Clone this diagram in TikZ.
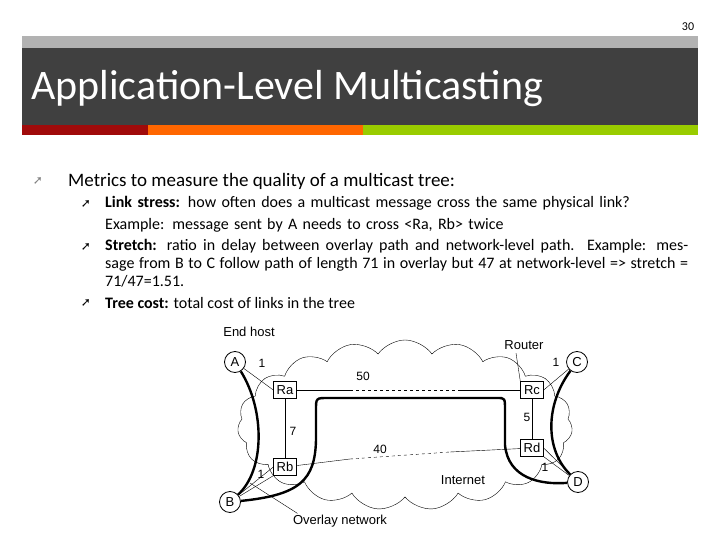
\documentclass[tikz,border=0pt]{standalone}
\usepackage{fontspec}
\setmainfont{Carlito}
\newfontfamily\figfont{Liberation Sans}
\newfontfamily\symfont{DejaVu Sans}
\usetikzlibrary{positioning,shapes.symbols}
\definecolor{colorbar}{RGB}{64,64,64}
\definecolor{colorred}{RGB}{160,10,10}
\definecolor{colororange}{RGB}{255,102,0}
\definecolor{colorgreen}{RGB}{153,204,0}

\begin{document}
\begin{tikzpicture}[
    x=1pt, y=-1pt,
    host/.style={circle,draw,thick,minimum size=21pt,inner sep=0pt,font={\figfont\fontsize{13}{15}\selectfont}},
    router/.style={rectangle,draw,fill=white,minimum width=23pt,minimum height=17pt,inner sep=1pt,font={\figfont\fontsize{13}{15}\selectfont}},
    weight/.style={font={\figfont\fontsize{12}{14}\selectfont}},
    figtext/.style={font={\figfont\fontsize{13}{15}\selectfont}},
    treeline/.style={line width=2.4pt},
    bullet/.style={font={\symfont\fontsize{12}{14}\selectfont}},
]
    \useasboundingbox (0,0) rectangle (720,540);

    % Slide frame
    \fill[gray!60] (22,36) rectangle (698,48);
    \fill[colorbar] (22,48) rectangle (698,125);
    \fill[colorred] (22,125) rectangle (148,135);
    \fill[colororange] (148,125) rectangle (363,135);
    \fill[colorgreen] (363,125) rectangle (698,135);
    \node[font=\fontsize{12}{14}\selectfont] (page) at (688,27) {30};
    \node[anchor=west,text=white,font=\fontsize{42}{46}\selectfont,inner sep=0pt] (title) at (31,89) {Application-Level Multicasting};

    % Bullets
    \node[bullet,text=gray] (b0) at (38,181) {➚};
    \node[anchor=west,inner sep=0pt,font=\fontsize{19}{22}\selectfont] (t0) at (68,181) {Metrics to measure the quality of a multicast tree:};
    \node[bullet] (b1) at (86,204) {➚};
    \node[anchor=north west,text width=583pt,align=left,inner sep=0pt,font=\fontsize{16}{22}\selectfont] (t1) at (105,196)
        {\textbf{Link stress:} how often does a multicast message cross the same physical link?\\Example: message sent by A needs to cross <Ra, Rb> twice};
    \node[bullet] (b2) at (86,247) {➚};
    \node[anchor=north west,text width=583pt,align=justify,inner sep=0pt,font=\fontsize{16}{18}\selectfont] (t2) at (105,239)
        {\textbf{Stretch:} ratio in delay between overlay path and network-level path. Example: message from B to C follow path of length 71 in overlay but 47 at network-level => stretch = 71/47=1.51.\par};
    \node[bullet] (b3) at (86,303) {➚};
    \node[anchor=west,inner sep=0pt,font=\fontsize{16}{18}\selectfont] (t3) at (105,303) {\textbf{Tree cost:} total cost of links in the tree};

    % Internet cloud
    \node[cloud,draw,thin,cloud puffs=19,cloud puff arc=110,aspect=2.1,minimum width=335pt,minimum height=170pt] (net) at (405,425) {};

    % Hosts and routers
    \node[host] (A) at (235,362) {A};
    \node[host] (B) at (230,502) {B};
    \node[host] (C) at (577,362) {C};
    \node[host] (D) at (578,482) {D};
    \node[router] (Ra) at (285,390) {Ra};
    \node[router] (Rb) at (285,467) {Rb};
    \node[router] (Rc) at (532,390) {Rc};
    \node[router] (Rd) at (532,448) {Rd};

    % Network links
    \draw (A) -- (Ra.west);
    \draw (B) -- (Rb.west);
    \draw (B) -- (Rb.south west);
    \draw (C) -- (Rc.east);
    \draw (D) -- (Rd.east);
    \draw (D) -- (Rd.south east);
    \draw (Ra) -- (Rb);
    \draw (Rc) -- (Rd);
    \draw (Ra) -- (350,390);
    \draw[dashed] (350,390) -- (460,390);
    \draw (460,390) -- (Rc);
    \draw (Rb) -- (350,459);
    \draw[dashed] (350,459) -- (450,452);
    \draw (450,452) -- (Rd);

    % Overlay tree
    \draw[treeline] (A) .. controls (265,410) and (265,470) .. (B);
    \draw[treeline] (C) .. controls (545,405) and (545,450) .. (D);
    \draw[treeline] (B) .. controls (300,495) and (315,480) .. (316,440)
        -- (316,410) .. controls (316,398) .. (328,398) -- (497,398)
        .. controls (505,398) .. (505,410) -- (505,445)
        .. controls (508,478) and (540,485) .. (D);

    % Weights
    \node[weight] (wa) at (262,363) {1};
    \node[weight] (wab) at (293,431) {7};
    \node[weight] (wb) at (261,474) {1};
    \node[weight] (wac) at (363,376) {50};
    \node[weight] (wbd) at (380,449) {40};
    \node[weight] (wc) at (556,362) {1};
    \node[weight] (wcd) at (527,417) {5};
    \node[weight] (wd) at (545,467) {1};

    % Labels
    \node[figtext] (endhost) at (249,332) {End host};
    \node[figtext] (router) at (524,345) {Router};
    \node[figtext] (internet) at (463,480) {Internet};
    \node[figtext] (overlaynet) at (340,521) {Overlay network};
    \draw (router.south) ++(-8,0) -- (Rc.north west);
    \draw (overlaynet.north west) ++(8,2) coordinate (ol) -- (250,483);
\end{tikzpicture}
\end{document}
